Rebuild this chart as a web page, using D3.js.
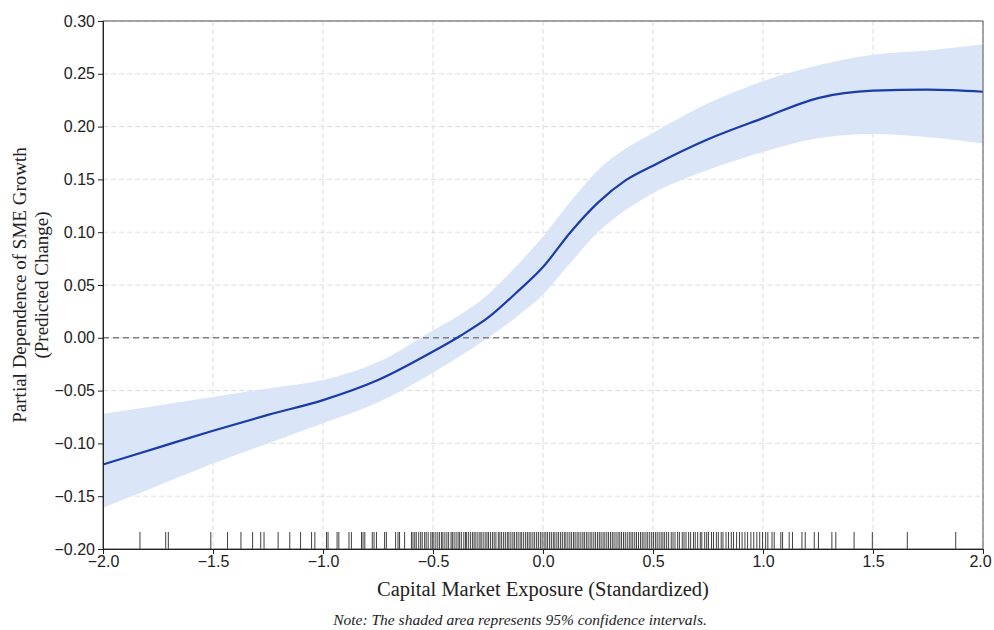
<!DOCTYPE html>
<html>
<head>
<meta charset="utf-8">
<script src="https://cdn.jsdelivr.net/npm/d3@7"></script>
<style>
  body { margin: 0; background: #fff; }
  .tick text { font-family: "Liberation Sans", Arial, sans-serif; font-size: 16px; fill: #222; }
</style>
</head>
<body>
<div id="chart"></div>
<script>
// Partial dependence curve + 95% CI band
const xs    = [-2, -1.75, -1.5, -1.25, -1, -0.75, -0.5, -0.375, -0.25, -0.125, 0, 0.125, 0.25, 0.375, 0.5, 0.75, 1, 1.25, 1.5, 1.75, 2];
const pd    = [-0.120, -0.104, -0.088, -0.073, -0.059, -0.040, -0.013, 0.002, 0.019, 0.042, 0.067, 0.100, 0.128, 0.149, 0.163, 0.188, 0.208, 0.227, 0.234, 0.235, 0.233];
const upper = [-0.072, -0.064, -0.056, -0.048, -0.040, -0.023, 0.007, 0.022, 0.041, 0.067, 0.096, 0.129, 0.159, 0.179, 0.194, 0.222, 0.243, 0.258, 0.268, 0.272, 0.278];
const lower = [-0.161, -0.140, -0.119, -0.100, -0.081, -0.061, -0.033, -0.017, 0.000, 0.019, 0.041, 0.071, 0.100, 0.121, 0.137, 0.159, 0.176, 0.189, 0.193, 0.190, 0.184];

// observed exposure values (rug)
const rug = [
  -1.832, -1.715, -1.703, -1.510, -1.434, -1.373, -1.320, -1.283, -1.268, -1.204, -1.151, -1.102, -1.052, -1.037,
  -0.984, -0.977, -0.936, -0.928, -0.882, -0.871, -0.825, -0.818, -0.810, -0.776, -0.768, -0.757, -0.720, -0.712,
  -0.670, -0.659, -0.652, -0.629, -0.598, -0.591, -0.583, -0.576,
  -0.565, -0.556, -0.549, -0.538, -0.531, -0.522, -0.510, -0.503, -0.496, -0.487, -0.478, -0.470, -0.461, -0.455,
  -0.446, -0.437, -0.429, -0.418, -0.412, -0.404, -0.395, -0.386, -0.379, -0.371, -0.360, -0.352, -0.347, -0.338,
  -0.329, -0.320, -0.313, -0.305, -0.296, -0.287, -0.281, -0.272, -0.263, -0.255, -0.248, -0.239, -0.230, -0.222,
  -0.214, -0.203, -0.196, -0.188, -0.179, -0.171, -0.162, -0.155, -0.146, -0.137, -0.130, -0.121, -0.113, -0.104,
  -0.097, -0.088, -0.079, -0.071, -0.063, -0.055, -0.046, -0.038, -0.029, -0.021, -0.012, -0.004, 0.005, 0.013,
  0.021, 0.030, 0.038, 0.047, 0.054, 0.063, 0.071, 0.080, 0.088, 0.097, 0.104, 0.113, 0.122, 0.130, 0.139, 0.146,
  0.155, 0.163, 0.172, 0.181, 0.188, 0.197, 0.205, 0.214, 0.222, 0.231, 0.239, 0.248, 0.256, 0.264, 0.273, 0.281,
  0.290, 0.298, 0.307, 0.315, 0.323, 0.332, 0.341, 0.349, 0.357, 0.366, 0.374, 0.383, 0.392, 0.400, 0.408, 0.417,
  0.425, 0.434, 0.443, 0.451, 0.459, 0.468, 0.476, 0.485, 0.494, 0.502, 0.511, 0.519, 0.528, 0.537, 0.545, 0.553,
  0.562, 0.571, 0.583, 0.591, 0.600, 0.612, 0.620, 0.633, 0.641, 0.650, 0.662, 0.671, 0.684, 0.692, 0.703, 0.715,
  0.722, 0.735, 0.744, 0.752, 0.766, 0.775, 0.788, 0.797, 0.810, 0.818, 0.832, 0.843, 0.856, 0.866, 0.880, 0.893,
  0.905, 0.918, 0.930, 0.945, 0.958, 0.972, 0.985, 0.998, 1.012, 1.022,
  1.041, 1.051, 1.081, 1.089, 1.119, 1.134, 1.177, 1.192, 1.233, 1.252, 1.313, 1.331, 1.414, 1.497, 1.656, 1.876
];

const xTicks = [-2, -1.5, -1, -0.5, 0, 0.5, 1, 1.5, 2];
const yTicks = [-0.20, -0.15, -0.10, -0.05, 0.00, 0.05, 0.10, 0.15, 0.20, 0.25, 0.30];

const width = 994, height = 630;
const margin = { top: 21, right: 11, bottom: 81, left: 103 };
const w = width - margin.left - margin.right;
const h = height - margin.top - margin.bottom;

const svg = d3.select("#chart").append("svg")
    .attr("width", width)
    .attr("height", height);

const g = svg.append("g").attr("transform", `translate(${margin.left},${margin.top})`);

const x = d3.scaleLinear().domain([-2, 2]).range([0, w]);
const y = d3.scaleLinear().domain([-0.2, 0.3]).range([h, 0]);

const fmt = d => d3.format(".1f")(d).replace("-", "\u2212");
const fmtY = d => d3.format(".2f")(d).replace("-", "\u2212");

// grid
g.append("g").selectAll("line")
    .data(xTicks)
    .enter().append("line")
    .attr("x1", d => x(d)).attr("x2", d => x(d))
    .attr("y1", 0).attr("y2", h)
    .attr("stroke", "#dcdcdc")
    .attr("stroke-dasharray", "5,3");

g.append("g").selectAll("line")
    .data(yTicks)
    .enter().append("line")
    .attr("x1", 0).attr("x2", w)
    .attr("y1", d => y(d)).attr("y2", d => y(d))
    .attr("stroke", "#dcdcdc")
    .attr("stroke-dasharray", "5,3");

// CI band
const data = xs.map((v, i) => ({ x: v, pd: pd[i], lo: lower[i], hi: upper[i] }));

g.append("path")
    .datum(data)
    .attr("fill", "#dbe5f8")
    .attr("d", d3.area()
        .x(d => x(d.x))
        .y0(d => y(d.lo))
        .y1(d => y(d.hi))
        .curve(d3.curveMonotoneX));

// zero reference line
g.append("line")
    .attr("x1", 0).attr("x2", w)
    .attr("y1", y(0)).attr("y2", y(0))
    .attr("stroke", "#808080")
    .attr("stroke-width", 1.4)
    .attr("stroke-dasharray", "6,4");

// PD line
g.append("path")
    .datum(data)
    .attr("fill", "none")
    .attr("stroke", "#1a3ca8")
    .attr("stroke-width", 2.2)
    .attr("d", d3.line()
        .x(d => x(d.x))
        .y(d => y(d.pd))
        .curve(d3.curveMonotoneX));

// rug
g.append("g").selectAll("line")
    .data(rug)
    .enter().append("line")
    .attr("x1", d => x(d)).attr("x2", d => x(d))
    .attr("y1", h - 17).attr("y2", h)
    .attr("stroke", "#111")
    .attr("stroke-opacity", 0.8)
    .attr("stroke-width", 1);

// frame
g.append("rect")
    .attr("width", w).attr("height", h)
    .attr("fill", "none")
    .attr("stroke", "#555")
    .attr("stroke-width", 1);

// axes
const xAxis = g.append("g")
    .attr("transform", `translate(0,${h})`)
    .call(d3.axisBottom(x).tickValues(xTicks).tickFormat(fmt).tickSize(5).tickPadding(2));
const yAxis = g.append("g")
    .call(d3.axisLeft(y).tickValues(yTicks).tickFormat(fmtY).tickSize(5).tickPadding(3));

[xAxis, yAxis].forEach(a => {
    a.select(".domain").attr("stroke", "#222");
    a.selectAll(".tick line").attr("stroke", "#222");
});
// keep the last x label inside the picture
xAxis.selectAll(".tick text").filter(d => d === 2).attr("dx", -3);

// axis titles
svg.append("text")
    .attr("x", margin.left + w / 2)
    .attr("y", 596)
    .attr("text-anchor", "middle")
    .style("font-family", "'Liberation Serif', 'Times New Roman', serif")
    .style("font-size", "20.5px")
    .style("fill", "#222")
    .text("Capital Market Exposure (Standardized)");

const yl = svg.append("text")
    .attr("transform", `translate(26,${margin.top + h / 2}) rotate(-90)`)
    .attr("text-anchor", "middle")
    .style("font-family", "'Liberation Serif', 'Times New Roman', serif")
    .style("font-size", "19px")
    .style("fill", "#222");
yl.append("tspan").attr("x", 0).attr("dy", 0).text("Partial Dependence of SME Growth");
yl.append("tspan").attr("x", 0).attr("dy", 22).text("(Predicted Change)");

// note
svg.append("text")
    .attr("x", 520)
    .attr("y", 625)
    .attr("text-anchor", "middle")
    .style("font-family", "'Liberation Serif', 'Times New Roman', serif")
    .style("font-style", "italic")
    .style("font-size", "15.5px")
    .style("fill", "#222")
    .text("Note: The shaded area represents 95% confidence intervals.");
</script>
</body>
</html>
